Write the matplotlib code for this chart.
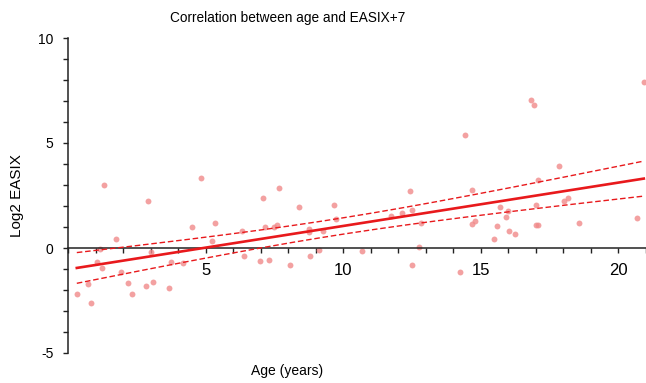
import numpy as np
import matplotlib
matplotlib.use("Agg")
import matplotlib.pyplot as plt
from matplotlib.ticker import MultipleLocator

plt.rcParams['font.family'] = ['Liberation Sans', 'DejaVu Sans']
plt.rcParams['axes.unicode_minus'] = False

# age (years) and log2 EASIX
age = [0.32, 0.74, 0.82, 1.07, 1.16, 1.25, 1.32, 1.75, 1.92, 2.17,
       2.33, 2.83, 2.92, 3.00, 3.10, 3.67, 3.75, 4.17, 4.50, 4.84,
       5.24, 5.35, 6.32, 6.41, 6.99, 7.08, 7.16, 7.30, 7.49, 7.59,
       7.67, 8.07, 8.41, 8.74, 8.76, 8.81, 9.11, 9.26, 9.67, 9.75,
       10.68, 11.75, 12.15, 12.41, 12.50, 12.50, 12.76, 12.84, 14.25, 14.41,
       14.68, 14.69, 14.80, 15.49, 15.57, 15.70, 15.93, 16.00, 16.01, 16.25,
       16.81, 16.92, 17.00, 17.02, 17.07, 17.08, 17.83, 18.01, 18.17, 18.58,
       20.69, 20.92]
log2_easix = [-2.18, -1.72, -2.62, -0.69, -0.03, -0.93, 3.02, 0.45, -1.14, -1.68,
              -2.18, -1.82, 2.23, -0.17, -1.63, -1.90, -0.66, -0.73, 0.98, 3.34,
              0.33, 1.20, 0.81, -0.36, -0.62, 2.36, 1.00, -0.57, 1.00, 1.11,
              2.85, -0.82, 1.93, 0.92, 0.76, -0.36, -0.09, 0.79, 2.07, 1.39,
              -0.14, 1.52, 1.68, 2.72, 1.80, -0.81, 0.05, 1.20, -1.14, 5.40,
              1.14, 2.75, 1.27, 0.43, 1.05, 1.93, 1.49, 1.74, 0.79, 0.68,
              7.03, 6.79, 2.07, 1.09, 1.09, 3.25, 3.89, 2.23, 2.36, 1.20,
              1.41, 7.90]

x_ticks = [5, 10, 15, 20]
y_ticks = [-5, 0, 5, 10]

x = np.array(age)
y = np.array(log2_easix)

# linear fit with 95% confidence band of the mean
n = len(x)
slope, intercept = np.polyfit(x, y, 1)
resid = y - (intercept + slope * x)
s = np.sqrt(np.sum(resid ** 2) / (n - 2))
sxx = np.sum((x - x.mean()) ** 2)
xf = np.linspace(x.min(), x.max(), 200)
yf = intercept + slope * xf
se = s * np.sqrt(1.0 / n + (xf - x.mean()) ** 2 / sxx)
t = 1.994

fig = plt.figure(figsize=(6.46, 3.83), dpi=100)
ax = fig.add_axes([68 / 646, 30 / 383, 578 / 646, 315 / 383])

ax.scatter(x, y, s=18, color='#f08a8a', alpha=0.8, linewidths=0, zorder=2)
ax.plot(xf, yf, color='#e8191c', lw=1.9, zorder=3)
ax.plot(xf, yf + t * se, color='#e8191c', lw=1.0, ls=(0, (4, 2)), zorder=3)
ax.plot(xf, yf - t * se, color='#e8191c', lw=1.0, ls=(0, (4, 2)), zorder=3)

ax.set_xlim(0, 21)
ax.set_ylim(-5, 10)

for side in ['top', 'right']:
    ax.spines[side].set_visible(False)
ax.spines['bottom'].set_position(('data', 0))
ax.spines['left'].set_color('#222222')
ax.spines['bottom'].set_color('#222222')
ax.spines['left'].set_linewidth(1.1)
ax.spines['bottom'].set_linewidth(1.1)

ax.set_xticks(x_ticks)
ax.set_yticks(y_ticks)
ax.xaxis.set_minor_locator(MultipleLocator(1))
ax.yaxis.set_minor_locator(MultipleLocator(1))
ax.tick_params(axis='x', which='both', direction='out', length=3.5, width=1.0,
               color='#222222', labelsize=12, pad=7)
ax.tick_params(axis='y', which='both', direction='out', length=3.5, width=1.0,
               color='#222222', labelsize=10, pad=7)

fig.text(287.5 / 646, 1 - 18 / 383, 'Correlation between age and EASIX+7',
         ha='center', va='center', fontsize=9.8)
fig.text(287.5 / 646, 1 - 371.5 / 383, 'Age (years)',
         ha='center', va='center', fontsize=10)
fig.text(17 / 646, 1 - 196 / 383, 'Log2 EASIX', rotation=90,
         ha='center', va='center', fontsize=11)

fig.savefig('out.png', dpi=100)
